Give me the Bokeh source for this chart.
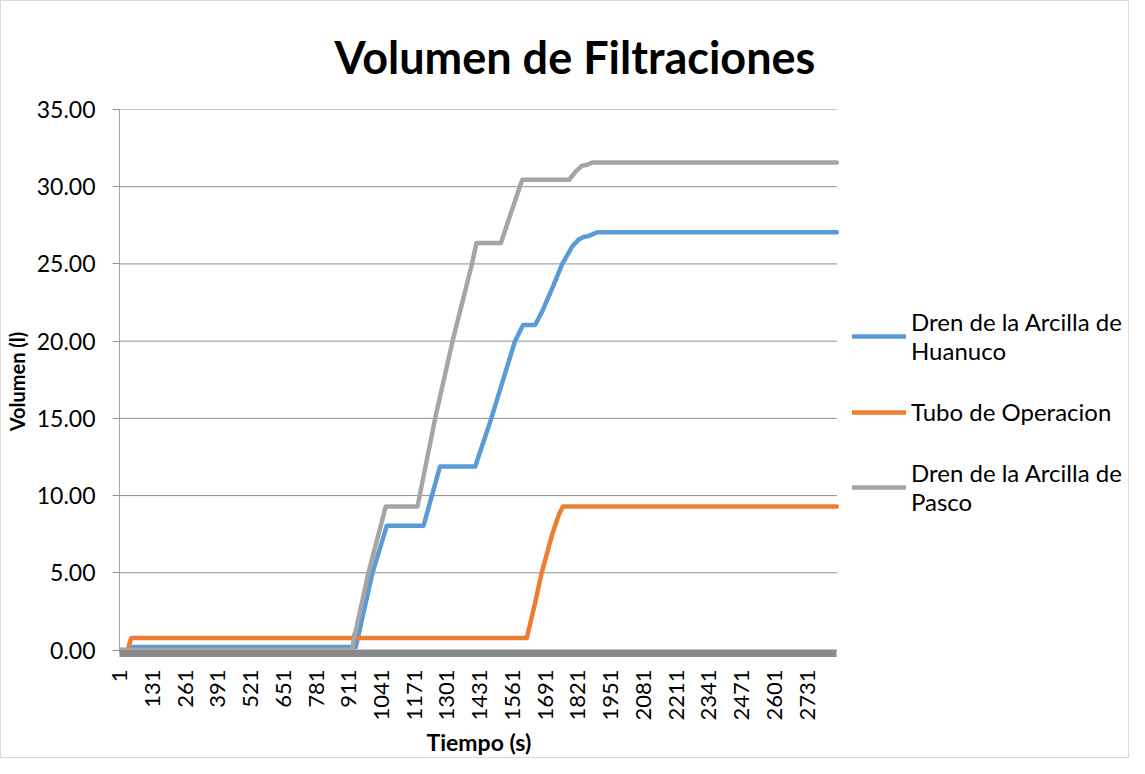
import math
from bokeh.plotting import figure
from bokeh.models import FixedTicker, PrintfTickFormatter, Legend, LegendItem, Range1d, Title
from bokeh.embed import file_html
from bokeh.resources import INLINE

title_text = "Volumen de Filtraciones"
x_label = "Tiempo (s)"
y_label = "Volumen (l)"

series_names = ["Dren de la Arcilla de\nHuanuco", "Tubo de Operacion", "Dren de la Arcilla de\nPasco"]
series_colors = ["#5B9BD5", "#ED7D31", "#A5A5A5"]

n_categories = 2849

huanuco_t = [1, 40, 50, 939, 1005, 1062, 1208, 1273, 1413, 1475, 1571, 1603, 1651, 1680, 1720, 1759, 1799, 1825, 1843, 1862, 1898, 2849]
huanuco_v = [0.0, 0.0, 0.2, 0.2, 5.0, 8.05, 8.05, 11.88, 11.88, 14.9, 20.0, 21.05, 21.05, 21.96, 23.46, 25.0, 26.15, 26.59, 26.74, 26.8, 27.05, 27.05]

tubo_t = [1, 33, 47, 1618, 1650, 1677, 1719, 1746, 1762, 2849]
tubo_v = [0.0, 0.0, 0.78, 0.78, 3.0, 5.0, 7.5, 8.8, 9.3, 9.3]

pasco_t = [1, 925, 933, 938, 989, 1058, 1184, 1254, 1323, 1400, 1418, 1515, 1590, 1600, 1786, 1812, 1836, 1858, 1878, 2849]
pasco_v = [0.0, 0.03, 1.0, 1.2, 5.0, 9.3, 9.3, 15.0, 20.0, 25.0, 26.36, 26.36, 30.0, 30.45, 30.45, 30.98, 31.35, 31.42, 31.57, 31.57]

x_ticks = [1, 131, 261, 391, 521, 651, 781, 911, 1041, 1171, 1301, 1431, 1561, 1691, 1821, 1951, 2081, 2211, 2341, 2471, 2601, 2731]
y_ticks = [0, 5, 10, 15, 20, 25, 30, 35]

FONT = "Lato"
W, H = 1129, 758
LEFT = 113          # frame left in figure px
DATA_PX = 721       # width of the plotting area that holds the series
FRAME_PX = W - LEFT # frame extends to the right edge so the legend can sit inside it

x_start = 0.5
x_data_end = n_categories + 0.5
x_end = x_start + (x_data_end - x_start) * FRAME_PX / DATA_PX

p = figure(width=W, height=H, output_backend="svg", toolbar_location=None,
           x_range=Range1d(x_start, x_end), y_range=Range1d(-0.226, 35),
           min_border_left=LEFT, min_border_right=0, min_border_top=107, min_border_bottom=106)
p.styles = {"border": "1px solid #d9d9d9"}
p.outline_line_color = None
p.background_fill_color = "white"
p.border_fill_color = "white"

p.title.text = title_text
p.title.text_font = FONT
p.title.text_font_size = "45px"
p.title.text_font_style = "bold"
p.title.text_color = "#000000"
p.title.align = "left"
p.title.offset = 215
p.title.standoff = 52

# horizontal gridlines limited to the data area
p.xgrid.grid_line_color = None
p.ygrid.grid_line_color = None
p.segment(x0=[x_start] * len(y_ticks), x1=[x_data_end] * len(y_ticks), y0=y_ticks, y1=y_ticks,
          line_color="#8f8f8f", line_width=1, level="underlay")

renderers = []
for t, v, c in [(huanuco_t, huanuco_v, series_colors[0]), (tubo_t, tubo_v, series_colors[1]), (pasco_t, pasco_v, series_colors[2])]:
    r = p.line(t, v, line_color=c, line_width=4.5, line_join="round", line_cap="round")
    renderers.append(r)

p.yaxis.ticker = FixedTicker(ticks=y_ticks)
p.yaxis.formatter = PrintfTickFormatter(format="%.2f")
p.yaxis.axis_line_color = "#a6a6a6"
p.yaxis.major_tick_line_color = "#8f8f8f"
p.yaxis.major_tick_out = 7
p.yaxis.major_tick_in = 0
p.yaxis.minor_tick_line_color = None
p.yaxis.major_label_text_font = FONT
p.yaxis.major_label_text_font_size = "23px"
p.yaxis.major_label_text_color = "#000000"
p.yaxis.major_label_standoff = 17
p.yaxis.axis_label = y_label
p.yaxis.axis_label_text_font = FONT
p.yaxis.axis_label_text_font_size = "20px"
p.yaxis.axis_label_text_font_style = "bold"
p.yaxis.axis_label_text_color = "#000000"
p.yaxis.axis_label_standoff = 5

p.xaxis.ticker = FixedTicker(ticks=x_ticks)
p.xaxis.bounds = (x_start, x_data_end)
p.xaxis.major_label_orientation = math.pi / 2
p.xaxis.axis_line_color = "#898989"
p.xaxis.axis_line_width = 7
p.xaxis.major_tick_line_color = None
p.xaxis.minor_tick_line_color = None
p.xaxis.major_label_text_font = FONT
p.xaxis.major_label_text_font_size = "22px"
p.xaxis.major_label_text_color = "#000000"
p.xaxis.major_label_standoff = 10

xt = Title(text=x_label, align="left", offset=307, standoff=4,
           text_font=FONT, text_font_size="23px", text_font_style="bold", text_color="#000000")
p.add_layout(xt, "below")

legend = Legend(items=[LegendItem(label=n, renderers=[r]) for n, r in zip(series_names, renderers)],
                location=(733, 137))
legend.label_text_font = FONT
legend.label_text_font_size = "24px"
legend.label_text_color = "#000000"
legend.glyph_width = 54
legend.glyph_height = 22
legend.label_standoff = 5
legend.spacing = 32
legend.padding = 0
legend.margin = 0
legend.border_line_color = None
legend.background_fill_alpha = 0
p.add_layout(legend)

open("out.html", "w").write(file_html(p, INLINE))
